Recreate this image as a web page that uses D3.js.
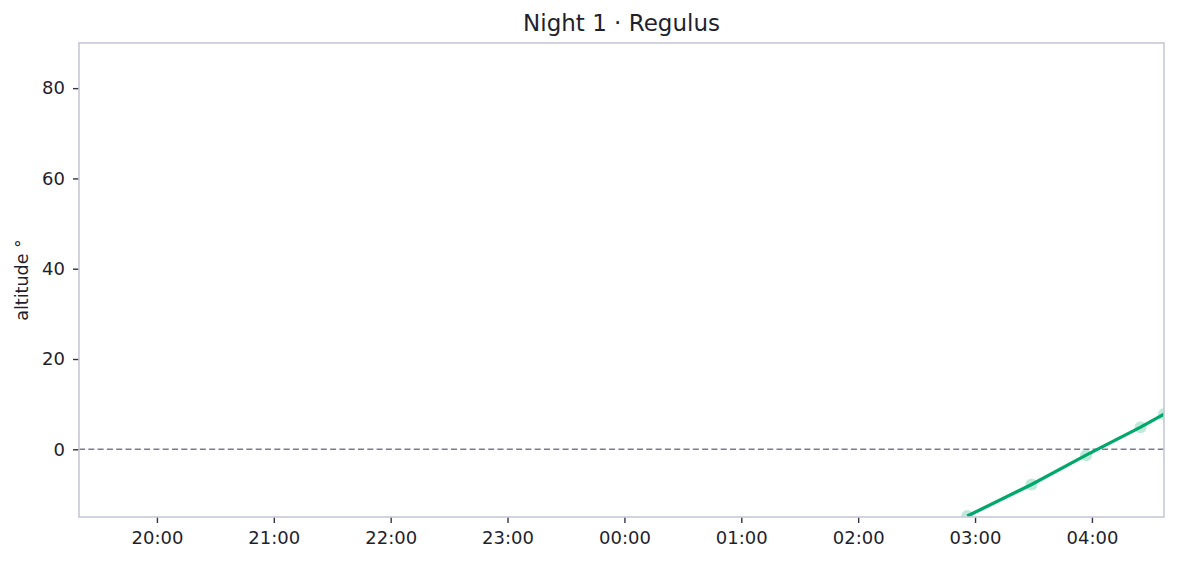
<!DOCTYPE html>
<html>
<head>
<meta charset="utf-8">
<script src="https://cdn.jsdelivr.net/npm/d3@7"></script>
<style>
  body { margin: 0; background: #fff; }
  svg { font-family: "DejaVu Sans", sans-serif; }
</style>
</head>
<body>
<svg id="chart"></svg>
<script>
// altitude samples for Regulus, night 1 (times are clock time, night starts on day 1)
var sampleTimes = ["2024-01-02 02:56", "2024-01-02 03:29", "2024-01-02 03:57", "2024-01-02 04:25", "2024-01-02 04:37"];
var altitudes = [-14.8, -7.8, -1.3, 4.9, 7.8];
var timeDomain = ["2024-01-01 19:20", "2024-01-02 04:37"];
var altDomain = [-15, 90];
var yTicks = [0, 20, 40, 60, 80];
var horizon = 0;

var parse = d3.timeParse("%Y-%m-%d %H:%M");
var data = sampleTimes.map((t, i) => ({ t: parse(t), alt: altitudes[i] }));

var width = 1177, height = 564;
var margin = { top: 43, right: 13, bottom: 47, left: 79 };

var svg = d3.select("#chart")
    .attr("width", width)
    .attr("height", height);

var x = d3.scaleTime()
    .domain(timeDomain.map(parse))
    .range([margin.left, width - margin.right]);

var y = d3.scaleLinear()
    .domain(altDomain)
    .range([height - margin.bottom, margin.top]);

svg.append("defs").append("clipPath")
    .attr("id", "plot-clip")
  .append("rect")
    .attr("x", margin.left)
    .attr("y", margin.top)
    .attr("width", width - margin.left - margin.right)
    .attr("height", height - margin.top - margin.bottom);

// axes
var xAxis = svg.append("g")
    .attr("transform", "translate(0," + (height - margin.bottom) + ")")
    .call(d3.axisBottom(x)
        .ticks(d3.timeHour.every(1))
        .tickFormat(d3.timeFormat("%H:%M"))
        .tickSize(6)
        .tickPadding(8));

var yAxis = svg.append("g")
    .attr("transform", "translate(" + margin.left + ",0)")
    .call(d3.axisLeft(y)
        .tickValues(yTicks)
        .tickSize(6)
        .tickPadding(8));

[xAxis, yAxis].forEach(ax => {
    ax.select(".domain").remove();
    ax.selectAll(".tick line").attr("stroke", "#33334a").attr("stroke-width", 1.4);
    ax.selectAll(".tick text")
      .attr("fill", "#1f1f2e")
      .attr("font-size", "18px")
      .attr("font-family", "DejaVu Sans, sans-serif");
});

// horizon line
svg.append("line")
    .attr("x1", margin.left)
    .attr("x2", width - margin.right)
    .attr("y1", y(horizon))
    .attr("y2", y(horizon))
    .attr("stroke", "#7c7c96")
    .attr("stroke-width", 1.4)
    .attr("stroke-dasharray", "6,3.3");

var plot = svg.append("g").attr("clip-path", "url(#plot-clip)");

plot.append("path")
    .datum(data)
    .attr("fill", "none")
    .attr("stroke", "#00a86b")
    .attr("stroke-width", 3.3)
    .attr("d", d3.line().x(d => x(d.t)).y(d => y(d.alt)));

plot.selectAll(".pt")
    .data(data)
    .enter()
    .append("circle")
    .classed("pt", true)
    .attr("cx", d => x(d.t))
    .attr("cy", d => y(d.alt))
    .attr("r", 6)
    .attr("fill", "#00a86b")
    .attr("fill-opacity", 0.25);

// frame
svg.append("rect")
    .attr("x", margin.left)
    .attr("y", margin.top)
    .attr("width", width - margin.left - margin.right)
    .attr("height", height - margin.top - margin.bottom)
    .attr("fill", "none")
    .attr("stroke", "#c6c8d6")
    .attr("stroke-width", 1.6);

svg.append("text")
    .attr("x", (margin.left + width - margin.right) / 2)
    .attr("y", 31)
    .attr("text-anchor", "middle")
    .attr("font-size", "23px")
    .attr("fill", "#1f1f2e")
    .text("Night 1 · Regulus");

svg.append("text")
    .attr("transform", "translate(28," + ((margin.top + height - margin.bottom) / 2) + ") rotate(-90)")
    .attr("text-anchor", "middle")
    .attr("font-size", "17.5px")
    .attr("fill", "#1f1f2e")
    .text("altitude °");
</script>
</body>
</html>
